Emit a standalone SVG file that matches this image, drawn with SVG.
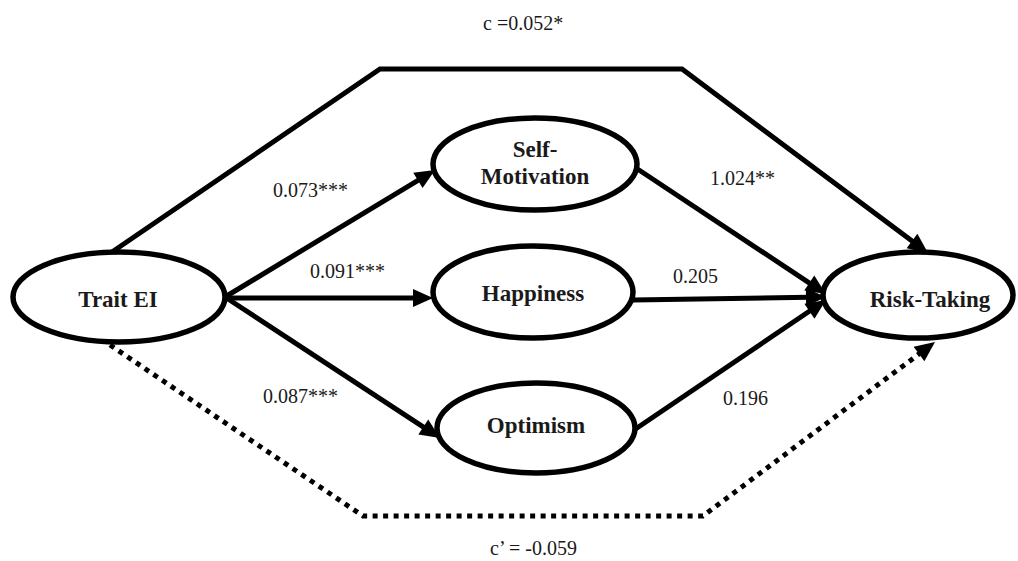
<svg xmlns="http://www.w3.org/2000/svg" width="1018" height="561" viewBox="0 0 1018 561">
<style>
.node ellipse{fill:#fff;stroke:#000;stroke-width:5.5}
.nl{font-family:'Liberation Serif','Tinos','Times New Roman','DejaVu Serif',serif;font-weight:bold;font-size:23px;fill:#1a1a1a;text-anchor:middle}
.el{font-family:'Liberation Serif','Tinos','Times New Roman','DejaVu Serif',serif;font-size:20px;fill:#1a1a1a}
.c{fill:none;stroke:#000;stroke-width:5;stroke-linejoin:miter}
.d{stroke-dasharray:5 5.5}
</style>
<defs>
<marker id="ah" markerUnits="userSpaceOnUse" markerWidth="22" markerHeight="20" refX="3" refY="9" orient="auto" overflow="visible">
<path d="M0,0 L20,9 L0,18 Z" fill="#000" stroke="none"/>
</marker>
</defs>
<rect width="1018" height="561" fill="#fff"/>
<g id="connectors">
<path class="c" d="M112,252 L380,69 L682,69 L914.4,242.8" marker-end="url(#ah)"/>
<path class="c d" d="M110,345 L363,516 L703,516 L921.4,352.2" marker-end="url(#ah)"/>
<path class="c" d="M225,297 L420.5,178.8" marker-end="url(#ah)"/>
<path class="c" d="M225,298 L416,298" marker-end="url(#ah)"/>
<path class="c" d="M225,297 L425.8,428.7" marker-end="url(#ah)"/>
<path class="c" d="M636,168 L811.8,284.6" marker-end="url(#ah)"/>
<path class="c" d="M633,300 L809,297.3" marker-end="url(#ah)"/>
<path class="c" d="M634,430 L811.9,309.5" marker-end="url(#ah)"/>
</g>
<g id="traitEI" class="node">
<ellipse cx="119" cy="297" rx="106" ry="45"/>
<text class="nl" x="118" y="307">Trait EI</text>
</g>
<g id="selfMotivation" class="node">
<ellipse cx="535" cy="164" rx="102" ry="46"/>
<text class="nl" x="535" y="157">Self-</text>
<text class="nl" x="535" y="184">Motivation</text>
</g>
<g id="happiness" class="node">
<ellipse cx="533" cy="292" rx="100" ry="46"/>
<text class="nl" x="533" y="301">Happiness</text>
</g>
<g id="optimism" class="node">
<ellipse cx="536" cy="428" rx="99" ry="45"/>
<text class="nl" x="536" y="433">Optimism</text>
</g>
<g id="riskTaking" class="node">
<ellipse cx="918" cy="295" rx="95" ry="43"/>
<text class="nl" x="930" y="307">Risk-Taking</text>
</g>
<g id="labels">
<text class="el" x="483" y="30">c =0.052*</text>
<text class="el" x="273" y="197">0.073***</text>
<text class="el" x="310" y="278">0.091***</text>
<text class="el" x="263" y="403">0.087***</text>
<text class="el" x="710" y="185">1.024**</text>
<text class="el" x="673" y="283">0.205</text>
<text class="el" x="723" y="405">0.196</text>
<text class="el" x="490" y="555">c’ = -0.059</text>
</g>
</svg>
